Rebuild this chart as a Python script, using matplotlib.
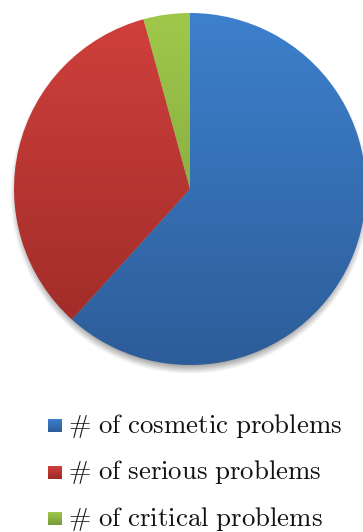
import numpy as np
import matplotlib
matplotlib.use("Agg")
import matplotlib.pyplot as plt
from matplotlib.colors import LinearSegmentedColormap

plt.rcParams["mathtext.fontset"] = "cm"

# Problem counts per category
categories = ["cosmetic", "serious", "critical"]
counts = [29, 16, 2]
labels = [r"$\#\ \mathrm{of\ %s\ problems}$" % c for c in categories]

# Vertical gradients (top colour, bottom colour) per slice
gradients = [("#3d80cd", "#2d5d99"), ("#d0403c", "#9b2a27"), ("#9fc84b", "#789a37")]

W, H, DPI = 363, 532, 100
fig = plt.figure(figsize=(W / DPI, H / DPI), dpi=DPI)
ax = fig.add_axes([0, 0, 1, 1])

cx, cy, R = 190, H - 189, 176

# soft drop shadow beneath the pie
gx = np.linspace(0, W, W * 2)
gy = np.linspace(0, H, H * 2)
XX, YY = np.meshgrid(gx, gy)
d = np.hypot(XX - cx, YY - (cy - 5))
alpha = np.clip((R + 4 - d) / 9.0, 0, 1) * 0.55
shadow = np.zeros(XX.shape + (4,))
shadow[..., :3] = 0.35
shadow[..., 3] = alpha
ax.imshow(shadow, extent=(0, W, 0, H), origin="lower", zorder=0, interpolation="bilinear")

wedges, _ = ax.pie(counts, center=(cx, cy), radius=R, startangle=90,
                   counterclock=False, frame=True,
                   wedgeprops=dict(facecolor="none", edgecolor="none"))

grad = np.linspace(0, 1, 256).reshape(-1, 1)
for w, (top, bot) in zip(wedges, gradients):
    cmap = LinearSegmentedColormap.from_list("g", [bot, top])
    im = ax.imshow(grad, cmap=cmap, origin="lower", aspect="auto",
                   extent=(cx - R, cx + R, cy - R, cy + R), zorder=2)
    im.set_clip_path(w)

# legend
row_y = [H - 426, H - 472.5, H - 519]
for y, lab, (top, bot) in zip(row_y, labels, gradients):
    cmap = LinearSegmentedColormap.from_list("g", [bot, top])
    ax.imshow(grad, cmap=cmap, origin="lower", aspect="auto",
              extent=(48, 62, y - 6.5, y + 6.5), zorder=3)
    ax.text(68, y - 7, lab, fontsize=19.3, va="baseline", ha="left", color="#111111")

ax.set_xlim(0, W)
ax.set_ylim(0, H)
ax.set_aspect("equal")
ax.axis("off")
fig.savefig("out.png", dpi=DPI)
